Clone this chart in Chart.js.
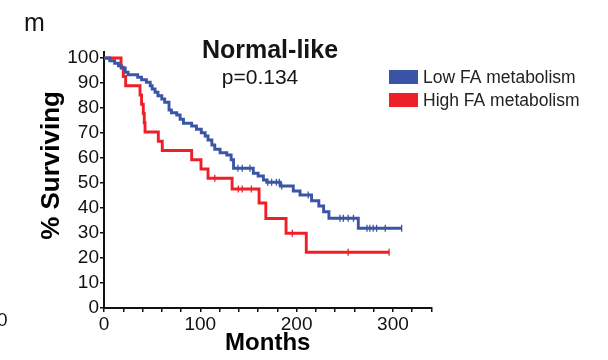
<!DOCTYPE html>
<html>
<head>
<meta charset="utf-8">
<script src="https://cdn.jsdelivr.net/npm/chart.js@4.4.1/dist/chart.umd.min.js"></script>
<style>
  html, body { margin: 0; padding: 0; background: #fff; }
  #wrap { width: 608px; height: 360px; }
</style>
</head>
<body>
<div id="wrap"><canvas id="c" width="608" height="360"></canvas></div>
<script>
const FONT = '"Liberation Sans", Arial, Helvetica, sans-serif'

const seriesLabels = ["Low FA metabolism", "High FA metabolism"]
const seriesColors = ["#3a55a5", "#ee2027"]
const panelLetter = "m"
const panelTitle = "Normal-like"
const pValue = "p=0.134"

// Kaplan-Meier steps: month of the step, % surviving after it
const lowMonths = [0, 6, 11, 15, 18, 22, 25, 35, 39, 44, 48, 50, 53, 56, 60, 63, 67.5, 70, 75.5, 79, 82.5, 91, 96, 101, 105, 108, 112, 115, 120.5, 127.5, 132, 134.5, 155, 160, 165.5, 169, 183, 196.5, 203.5, 215.5, 223, 228, 233.5, 264, 309]
const lowSurv = [100, 98.9, 97.9, 96.9, 96.0, 94.3, 93.3, 92.3, 91.3, 90.3, 88.9, 87.6, 86.3, 84.9, 83.6, 82.3, 79.2, 78.1, 77.2, 75.5, 73.9, 72.8, 71.5, 70.1, 68.8, 67.2, 65.2, 63.5, 62.1, 61.2, 59.3, 55.9, 53.9, 52.8, 51.2, 50.3, 48.8, 46.8, 45.2, 42.9, 40.8, 38.5, 35.9, 31.9, 31.9]
const lowCensored = [139, 143.5, 151.5, 170, 174, 179, 182, 184.5, 212, 245, 248.5, 253.5, 259, 273, 276, 279.5, 283, 292, 309]

const highMonths = [0, 17.7, 20, 22.5, 37.4, 39, 40.8, 41.8, 42.6, 56.4, 60.5, 91, 100.7, 108, 133, 161, 168, 189, 210, 296]
const highSurv = [100, 96.3, 92.6, 88.9, 85.2, 81.5, 77.8, 74.1, 70.4, 66.7, 63.0, 59.3, 55.6, 51.9, 47.6, 42.0, 35.8, 29.9, 22.3, 22.3]
const highCensored = [115, 139.5, 143.5, 153, 195.5, 253.5, 296]

const xMax = 340
const xMinorTicks = [0, 20, 40, 60, 80, 100, 120, 140, 160, 180, 200, 220, 240, 260, 280, 300, 320, 340]
const xTickLabels = [0, 100, 200, 300]
const yMax = 102.5
const yTicks = [0, 10, 20, 30, 40, 50, 60, 70, 80, 90, 100]

function survAt(months, surv, t) {
  let s = surv[0]
  for (let i = 0; i < months.length; i++) if (months[i] <= t) s = surv[i]
  return s
}
const toPoints = (months, surv) => months.map((m, i) => ({x: m, y: surv[i]}))
const censorPoints = (cens, months, surv) => cens.map(t => ({x: t, y: survAt(months, surv, t)}))

const curve = (label, color, points) => ({
  label, data: points, borderColor: color, backgroundColor: color,
  borderWidth: 2.9, stepped: true, pointRadius: 0, fill: false
})
const ticksSet = (label, color, points) => ({
  label, data: points, showLine: false, borderColor: color, backgroundColor: color,
  pointStyle: 'line', pointRotation: 90, pointRadius: 3.5, pointBorderWidth: 1.3,
  pointHoverRadius: 0
})

const figureText = {
  id: 'figureText',
  afterDraw(chart) {
    const ctx = chart.ctx
    ctx.save()
    ctx.fillStyle = '#151515'
    ctx.textBaseline = 'alphabetic'
    ctx.textAlign = 'left'
    ctx.font = '25px ' + FONT
    ctx.fillText(panelLetter, 24, 31)
    // stray tick label of the neighbouring panel
    ctx.font = '19px ' + FONT
    ctx.fillText('0', -3, 326)

    ctx.textAlign = 'center'
    ctx.font = 'bold 25px ' + FONT
    ctx.fillText(panelTitle, 270, 58)
    ctx.font = '21px ' + FONT
    ctx.fillText(pValue, 260, 84)

    // legend
    ctx.textAlign = 'left'
    ctx.textBaseline = 'middle'
    ctx.font = '17.5px ' + FONT
    seriesLabels.forEach((lab, i) => {
      const y = 77 + i * 23
      ctx.fillStyle = seriesColors[i]
      ctx.fillRect(389, y - 7, 29, 14)
      ctx.fillStyle = '#222'
      ctx.fillText(lab, 423, y + 1)
    })
    ctx.restore()
  }
}

new Chart(document.getElementById('c'), {
  type: 'line',
  data: {
    datasets: [
      curve(seriesLabels[0], seriesColors[0], toPoints(lowMonths, lowSurv)),
      curve(seriesLabels[1], seriesColors[1], toPoints(highMonths, highSurv)),
      ticksSet(seriesLabels[0] + ' censored', seriesColors[0], censorPoints(lowCensored, lowMonths, lowSurv)),
      ticksSet(seriesLabels[1] + ' censored', seriesColors[1], censorPoints(highCensored, highMonths, highSurv))
    ]
  },
  options: {
    responsive: false,
    devicePixelRatio: 1,
    animation: false,
    layout: {padding: {left: 0, top: 51.75, right: 176.5, bottom: 0}},
    plugins: {legend: {display: false}, title: {display: false}, tooltip: {enabled: false}},
    scales: {
      x: {
        type: 'linear', min: 0, max: xMax,
        border: {color: '#111', width: 2},
        grid: {drawOnChartArea: false, drawTicks: true, tickLength: 4, color: '#111', lineWidth: 1.5},
        ticks: {
          autoSkip: false, maxRotation: 0, padding: 1, color: '#111',
          font: {family: FONT, size: 19},
          callback: v => xTickLabels.includes(v) ? String(v) : ''
        },
        afterBuildTicks: s => { s.ticks = xMinorTicks.map(v => ({value: v})) },
        title: {display: true, text: 'Months', color: '#000', font: {family: FONT, size: 24, weight: 'bold'}, padding: {top: 0, bottom: 2}},
        afterFit: s => { s.height = 52 }
      },
      y: {
        min: 0, max: yMax,
        border: {color: '#111', width: 2},
        grid: {drawOnChartArea: false, drawTicks: true, tickLength: 4, color: '#111', lineWidth: 1.5},
        ticks: {autoSkip: false, padding: 1, color: '#111', font: {family: FONT, size: 19}},
        afterBuildTicks: s => { s.ticks = yTicks.map(v => ({value: v})) },
        title: {display: true, text: '    % Surviving', color: '#000', font: {family: FONT, size: 26, weight: 'bold'}, padding: {top: 36, bottom: 0}},
        afterFit: s => { s.width = 104 }
      }
    }
  },
  plugins: [figureText]
})
</script>
</body>
</html>
